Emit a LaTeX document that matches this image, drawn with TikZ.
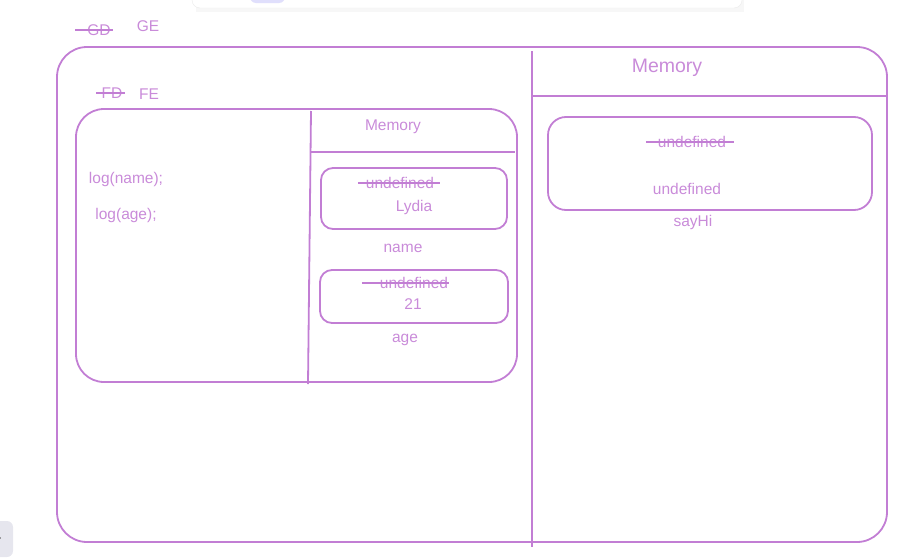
\documentclass[tikz,border=0pt]{standalone}
\usepackage{fontspec}
\setmainfont{Liberation Sans}
\definecolor{sk-line}{HTML}{C27ED4}
\definecolor{sk-text}{HTML}{C98BD9}
\definecolor{sk-chrome}{HTML}{E6E6EE}
\definecolor{sk-pill}{HTML}{E0DFFC}
\usetikzlibrary{positioning,calc}
\begin{document}
\begin{tikzpicture}[
    x=1pt, y=-1pt,
    frame/.style={draw=sk-line, line width=1.8pt},
    slot/.style={draw=sk-line, line width=1.8pt, rounded corners=12pt, minimum width=186pt, inner sep=0pt},
    lbl/.style={text=sk-text, inner sep=0pt, font=\fontsize{15.5}{18}\selectfont},
    head/.style={text=sk-text, inner sep=0pt, font=\fontsize{19.5}{23}\selectfont},
    strike/.style={draw=sk-line, line width=1.6pt}
]
\useasboundingbox (0,0) rectangle (918,557);

% editor chrome
\fill[black!3] (196,-12) rectangle (744,12);
\draw[draw=black!8, fill=white, rounded corners=8pt] (192,-12) rectangle (742,8);
\fill[sk-pill, rounded corners=6pt] (250,-12) rectangle (285,3);
\fill[sk-chrome, rounded corners=6pt] (-10,521) rectangle (13,557);
\fill[black!70] (0,538) circle (0.9pt);

% global context
\node[lbl] (gd) at (99,30) {GD};
\node[lbl] (ge) at (148,26) {GE};
\draw[strike] ([xshift=-12pt]gd.west) -- ([xshift=2pt]gd.east);
\draw[frame, rounded corners=30pt] (57,47) rectangle (887,542);
\coordinate (gtop) at (532,51);
\coordinate (gbot) at (532,547);
\draw[frame] (gtop) -- (gbot);
\draw[frame] (532,96) -- (887,96);
\node[head] (gmem) at (667,68) {Memory};
\node[slot, rounded corners=18pt, minimum width=324pt, minimum height=93pt] (hibox) at (710,163.5) {};
\node[lbl] (hiold) at (692,142) {undefined};
\draw[strike] ([xshift=-12pt]hiold.west) -- ([xshift=8pt]hiold.east);
\node[lbl] (hinew) at (687,189) {undefined};
\node[lbl] (hiname) at (693,222) {sayHi};

% function context
\node[lbl] (fd) at (112,93) {FD};
\node[lbl] (fe) at (149,94) {FE};
\draw[strike] ([xshift=-5pt]fd.west) -- ([xshift=2pt]fd.east);
\draw[frame, rounded corners=28pt] (76,109) rectangle (517,382);
\coordinate (ftop) at (311,111);
\coordinate (fbot) at (308,384);
\draw[frame] (ftop) -- (fbot);
\draw[frame] (311,152) -- (515,152);
\node[lbl] (fmem) at (393,127) {Memory};
\node[lbl] (logn) at (126,179) {log(name);};
\node[lbl] (loga) at (126,215) {log(age);};

\node[slot, minimum height=61pt] (namebox) at (414,198.5) {};
\node[lbl] (nameold) at (400,183) {undefined};
\draw[strike] ([xshift=-8pt]nameold.west) -- ([xshift=6pt]nameold.east);
\node[lbl] (nameval) at (414,207) {Lydia};
\node[lbl] (name) at (403,248) {name};

\node[slot, minimum width=188pt, minimum height=53pt] (agebox) at (414,296.5) {};
\node[lbl] (ageold) at (414,283) {undefined};
\draw[strike] ([xshift=-18pt]ageold.west) -- ([xshift=1pt]ageold.east);
\node[lbl] (ageval) at (413,304) {21};
\node[lbl] (age) at (405,340) {age};
\end{tikzpicture}
\end{document}
